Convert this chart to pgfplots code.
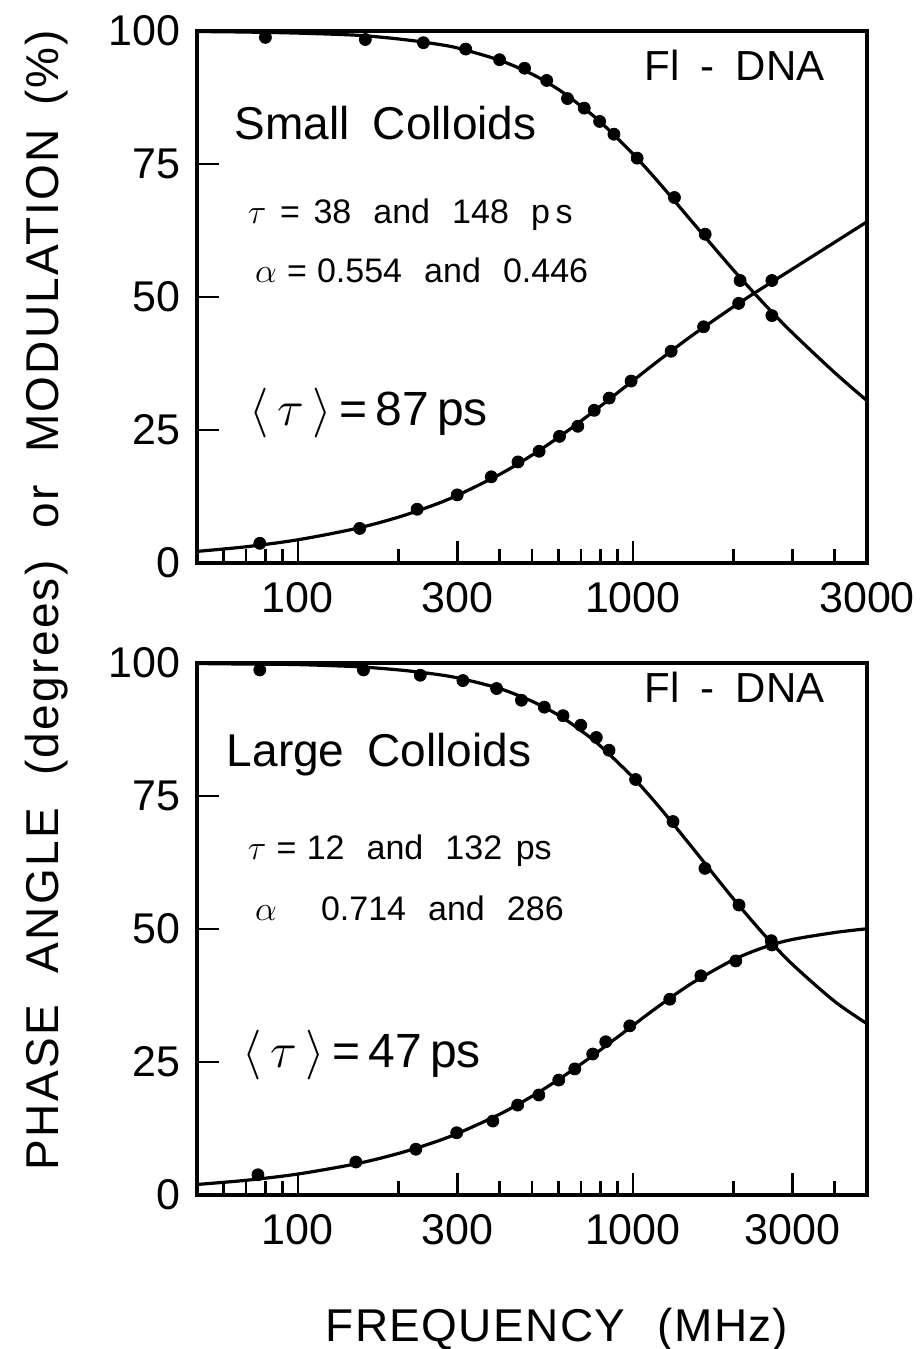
\documentclass[border=0pt]{standalone}
\usepackage{fontspec}
\setmainfont{Liberation Sans}
\usepackage{pgfplots}
\pgfplotsset{compat=1.18}

\pgfplotsset{
  colpanel/.style={
    width=335pt, height=266pt, scale only axis,
    xmin=50, xmax=5000, ymin=0, ymax=100,
    ytick={0,25,50,75,100},
    xtick={100,1000}, xticklabels={100,1000},
    minor xtick={60,70,80,90,200,300,400,500,600,700,800,900,2000,3000,4000},
    tick align=inside, xtick pos=bottom, ytick pos=left,
    major tick length=11pt, minor tick length=7pt,
    axis line style={line width=1.6pt},
    every tick/.style={line width=1.2pt, black},
    tick label style={font=\fontsize{21.5}{21.5}\selectfont},
    xticklabel style={yshift=-6pt},
    yticklabel style={xshift=-5pt},
  },
  fitline/.style={black, line width=1.6pt, smooth, no marks},
  datapts/.style={only marks, mark=*, mark size=3pt, black},
}

\begin{document}
\begin{tikzpicture}
\path[use as bounding box] (0,0) rectangle (461.5pt,674.5pt);

% top panel: small colloids
\begin{semilogxaxis}[colpanel, at={(98.5pt,393pt)}, anchor=south west,
    extra x ticks={300,5000}, extra x tick labels={300,3000},
    /pgf/number format/assume math mode=true]
\addplot[fitline] coordinates {(50,2.18) (70,3.05) (100,4.36) (150,6.51) (200,8.63) (250,10.71) (300,12.74) (400,16.64) (500,20.27) (600,23.62) (700,26.69) (800,29.47) (1000,34.26) (1200,38.15) (1500,42.73) (2000,48.19) (2500,52.14) (3000,55.29) (4000,60.27) (5000,64.14)};
\addplot[fitline] coordinates {(50,99.9) (70,99.8) (100,99.6) (150,99.2) (200,98.5) (250,97.7) (300,96.8) (400,94.5) (500,91.9) (600,89.0) (700,85.9) (800,82.9) (1000,76.9) (1200,71.4) (1500,64.2) (2000,55.0) (2500,48.3) (3000,43.2) (4000,35.8) (5000,30.5)};
\addplot[datapts] coordinates {(77,3.7) (153,6.5) (227,10.1) (299,12.8) (378,16.2) (454,19.0) (525,21.0) (604,23.8) (685,25.7) (767,28.7) (850,31.0) (988,34.2) (1301,39.8) (1626,44.4) (2069,48.8) (2600,53.1)};
\addplot[datapts] coordinates {(80,98.8) (159,98.4) (237,97.8) (317,96.6) (400,94.6) (475,93.0) (553,90.7) (638,87.3) (716,85.5) (796,83.0) (878,80.6) (1030,76.1) (1331,68.7) (1644,61.8) (2090,53.1) (2600,46.5)};
\node[anchor=west, font=\fontsize{21}{21}\selectfont] at (axis cs:1035,93.5) {Fl\enspace-\enspace DNA};
\node[anchor=west, font=\fontsize{23}{23}\selectfont] at (axis cs:61.8,82.7) {Small\enspace Colloids};
\node[anchor=west, font=\fontsize{17}{17}\selectfont] at (axis cs:67.6,65.5) {$\tau$\hspace{0.4em}=\hspace{0.4em}38\hspace{0.65em}and\hspace{0.65em}148\hspace{0.65em}p\,s};
\node[anchor=west, font=\fontsize{17}{17}\selectfont] at (axis cs:71,55) {$\alpha$\hspace{0.3em}=\hspace{0.3em}0.554\hspace{0.65em}and\hspace{0.65em}0.446};
\node[anchor=west, font=\fontsize{24}{24}\selectfont] at (axis cs:68.5,28.1) {$\langle\,\tau\,\rangle$\,=\,87\,ps};
\end{semilogxaxis}

% bottom panel: large colloids
\begin{semilogxaxis}[colpanel, at={(98.5pt,77pt)}, anchor=south west,
    extra x ticks={300,3000}, extra x tick labels={300,3000},
    /pgf/number format/assume math mode=true]
\addplot[fitline] coordinates {(50,1.98) (70,2.76) (100,3.94) (150,5.89) (200,7.82) (250,9.72) (300,11.58) (400,15.17) (500,18.55) (600,21.70) (700,24.61) (800,27.26) (1000,31.86) (1200,35.58) (1500,39.80) (2000,44.24) (2500,46.69) (3000,48.04) (4000,49.33) (5000,50.05)};
\addplot[fitline] coordinates {(50,99.9) (70,99.8) (100,99.7) (150,99.3) (200,98.7) (250,98.0) (300,97.2) (400,95.2) (500,92.8) (600,90.2) (700,87.3) (800,84.4) (1000,78.5) (1200,72.9) (1500,65.4) (2000,55.6) (2500,48.5) (3000,43.3) (4000,36.4) (5000,32.2)};
\addplot[datapts] coordinates {(76,3.8) (149,6.2) (225,8.6) (298,11.7) (382,13.9) (453,16.9) (524,18.8) (601,21.6) (671,23.7) (759,26.5) (830,28.8) (979,31.8) (1289,36.8) (1596,41.2) (2029,44.0) (2600,47.0)};
\addplot[datapts] coordinates {(77,98.7) (157,98.7) (232,97.7) (311,96.7) (392,95.2) (465,93.0) (544,91.7) (619,90.1) (699,88.3) (778,86.0) (849,83.6) (1019,78.1) (1318,70.2) (1641,61.4) (2074,54.5) (2589,47.8)};
\node[anchor=west, font=\fontsize{21}{21}\selectfont] at (axis cs:1035,95.5) {Fl\enspace-\enspace DNA};
\node[anchor=west, font=\fontsize{23}{23}\selectfont] at (axis cs:58.5,82.7) {Large\enspace Colloids};
\node[anchor=west, font=\fontsize{17}{17}\selectfont] at (axis cs:67.6,64.8) {$\tau$\hspace{0.3em}=\hspace{0.3em}12\hspace{0.65em}and\hspace{0.65em}132\hspace{0.4em}ps};
\node[anchor=west, font=\fontsize{17}{17}\selectfont] at (axis cs:71,53.9) {$\alpha$\hspace{1.3em}0.714\hspace{0.65em}and\hspace{0.65em}286};
\node[anchor=west, font=\fontsize{24}{24}\selectfont] at (axis cs:65.3,26.3) {$\langle\,\tau\,\rangle$\,=\,47\,ps};
\end{semilogxaxis}

\node[rotate=90, anchor=base, font=\fontsize{23}{23}\selectfont\addfontfeature{LetterSpace=5}] at (29pt,374.5pt)
  {PHASE\hspace{0.7em}ANGLE\hspace{0.7em}(degrees)\hspace{0.7em}or\hspace{0.7em}MODULATION\hspace{0.5em}(\%)};
\node[anchor=base, font=\fontsize{23}{23}\selectfont\addfontfeature{LetterSpace=3}] at (278.5pt,4pt)
  {FREQUENCY\hspace{0.7em}(MHz)};
\end{tikzpicture}
\end{document}
